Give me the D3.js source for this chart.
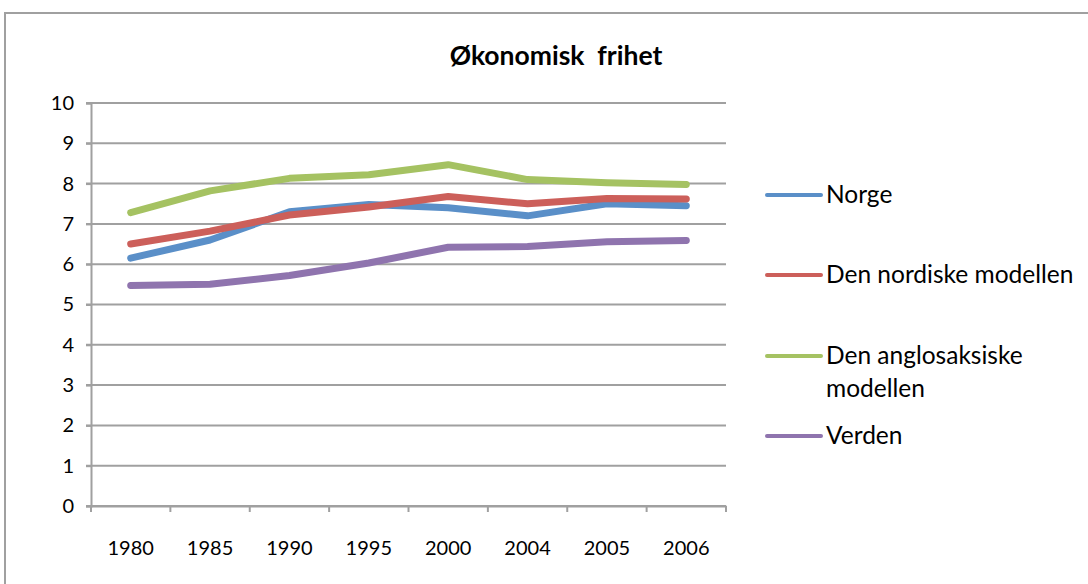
<!DOCTYPE html>
<html>
<head>
<meta charset="utf-8">
<script src="https://cdn.jsdelivr.net/npm/d3@7"></script>
<style>
  body { margin: 0; background: #fff; }
  text { font-family: Lato, "Open Sans", sans-serif; fill: #000; }
</style>
</head>
<body>
<div id="chart"></div>
<script>
// data
var years = ["1980", "1985", "1990", "1995", "2000", "2004", "2005", "2006"];
var norge = [6.15, 6.6, 7.3, 7.48, 7.4, 7.2, 7.5, 7.45];
var nordisk = [6.5, 6.82, 7.22, 7.42, 7.68, 7.5, 7.63, 7.62];
var anglo = [7.28, 7.82, 8.13, 8.22, 8.47, 8.1, 8.02, 7.98];
var verden = [5.47, 5.5, 5.72, 6.03, 6.42, 6.44, 6.56, 6.59];
var yTicks = [0, 1, 2, 3, 4, 5, 6, 7, 8, 9, 10];

var series = [
  { name: "Norge", values: norge, color: "#5a8fc8" },
  { name: "Den nordiske modellen", values: nordisk, color: "#cc5f5a" },
  { name: "Den anglosaksiske modellen", values: anglo, color: "#a5c262" },
  { name: "Verden", values: verden, color: "#8f74ae" }
];

var width = 1088, height = 584;
var svg = d3.select("#chart").append("svg")
  .attr("width", width)
  .attr("height", height);

// chart frame
svg.append("rect")
  .attr("x", 5).attr("y", 13)
  .attr("width", 1100).attr("height", 600)
  .attr("fill", "none")
  .attr("stroke", "#a0a0a0")
  .attr("stroke-width", 2);

// title
svg.append("text")
  .attr("x", 556).attr("y", 65)
  .attr("text-anchor", "middle")
  .attr("font-size", 26.5)
  .attr("font-weight", "bold")
  .style("white-space", "pre")
  .text("Økonomisk  frihet");

var plotLeft = 91, plotRight = 726, plotTop = 103, plotBottom = 506;

var x = d3.scaleBand().domain(years).range([plotLeft, plotRight]);
var y = d3.scaleLinear().domain([0, 10]).range([plotBottom, plotTop]);

// gridlines
svg.append("g")
  .selectAll("line")
  .data(yTicks)
  .enter().append("line")
    .attr("x1", plotLeft - 5).attr("x2", plotRight)
    .attr("y1", d => y(d)).attr("y2", d => y(d))
    .attr("stroke", "#a0a0a0")
    .attr("stroke-width", 2);

// y axis
var yAxis = svg.append("g")
  .attr("transform", "translate(" + plotLeft + ",0)")
  .call(d3.axisLeft(y).tickValues(yTicks).tickSize(5).tickPadding(12));
yAxis.select(".domain").attr("stroke", "#a0a0a0").attr("stroke-width", 2);
yAxis.selectAll(".tick line").attr("stroke", "#a0a0a0").attr("stroke-width", 2);
yAxis.selectAll("text").attr("font-size", 20).attr("font-family", "Lato");

// x axis with ticks at band edges
var xAxis = svg.append("g")
  .attr("transform", "translate(0," + plotBottom + ")")
  .call(d3.axisBottom(x).tickSize(0).tickPadding(35));
xAxis.select(".domain").attr("stroke", "#a0a0a0").attr("stroke-width", 2);
xAxis.selectAll("text").attr("font-size", 20).attr("font-family", "Lato");
xAxis.selectAll(".edge")
  .data(d3.range(years.length + 1))
  .enter().append("line")
    .attr("x1", i => plotLeft + i * x.step()).attr("x2", i => plotLeft + i * x.step())
    .attr("y1", 0).attr("y2", 6)
    .attr("stroke", "#a0a0a0")
    .attr("stroke-width", 2);

// lines
var line = d3.line()
  .x((d, i) => x(years[i]) + x.bandwidth() / 2)
  .y(d => y(d));

svg.append("g")
  .selectAll("path")
  .data(series)
  .enter().append("path")
    .attr("d", d => line(d.values))
    .attr("fill", "none")
    .attr("stroke", d => d.color)
    .attr("stroke-width", 7)
    .attr("stroke-linecap", "round")
    .attr("stroke-linejoin", "round");

// legend
var legendY = [195, 275, 356, 436];
var legend = svg.append("g")
  .selectAll("g")
  .data(series)
  .enter().append("g")
    .attr("transform", (d, i) => "translate(767," + legendY[i] + ")");

legend.append("line")
  .attr("x1", 0).attr("x2", 54)
  .attr("stroke", d => d.color)
  .attr("stroke-width", 4)
  .attr("stroke-linecap", "round");

legend.append("text")
  .attr("x", 59)
  .attr("y", 8)
  .attr("font-size", 24.5)
  .each(function(d) {
    var t = d3.select(this);
    if (d.name == "Den anglosaksiske modellen") {
      t.append("tspan").attr("x", 59).attr("dy", 0).text("Den anglosaksiske");
      t.append("tspan").attr("x", 59).attr("dy", 33).text("modellen");
    } else {
      t.text(d.name);
    }
  });
</script>
</body>
</html>
